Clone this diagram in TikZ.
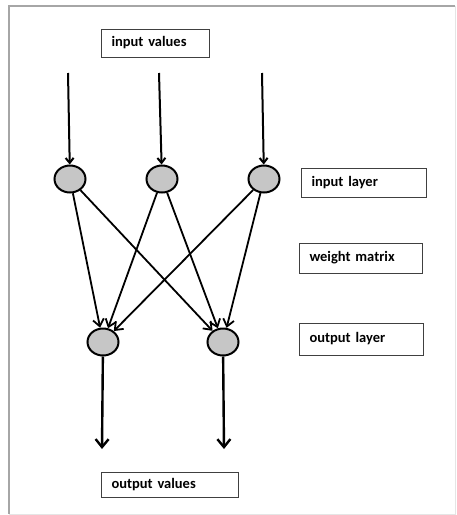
\documentclass[tikz,border=0pt]{standalone}
\usepackage{fontspec}
\setmainfont{Carlito}
\usetikzlibrary{arrows.meta,shapes.geometric}

\begin{document}
\begin{tikzpicture}[x=1pt,y=-1pt,
  neuron/.style={ellipse,draw,line width=2pt,fill=gray!45,inner sep=0pt,
    minimum width=31pt,minimum height=27pt},
  labelbox/.style={draw=black!75,line width=1pt,anchor=west,inner xsep=10pt,
    inner ysep=0pt,align=left,text width=#1,
    font=\fontsize{14.5}{16}\selectfont\bfseries},
  inflow/.style={line width=2pt,-{Straight Barb[length=5pt,width=8pt]}},
  outflow/.style={line width=2.4pt,-{Straight Barb[length=8pt,width=13pt]}},
  weight/.style={line width=1.8pt,-{Straight Barb[length=7pt,width=11pt]}}]
  \useasboundingbox (0,0) rectangle (456,515);
  % frame
  \draw[gray!70,line width=1.5pt] (9,514) -- (9,6) -- (455,6);
  \draw[gray!20,line width=1pt] (455,6) -- (455,514) -- (9,514);

  % labels
  \node[labelbox=88pt,minimum height=28pt]  (inval)  at (101,43)    {input values};
  \node[labelbox=105pt,minimum height=29pt] (inlay)  at (301,182.5) {input layer};
  \node[labelbox=103pt,minimum height=30pt] (wmat)   at (299,258)   {weight matrix};
  \node[labelbox=104pt,minimum height=32pt] (outlay) at (299,339)   {output layer};
  \node[labelbox=117pt,minimum height=25pt] (outval) at (101,484.5) {output values};

  % neurons
  \node[neuron] (i1) at (70,179)  {};
  \node[neuron] (i2) at (162,179) {};
  \node[neuron] (i3) at (264,179) {};
  \node[neuron] (o1) at (103,342) {};
  \node[neuron] (o2) at (223,342) {};

  % inputs and outputs
  \coordinate (a1) at (68,73);
  \coordinate (a2) at (159,73);
  \coordinate (a3) at (262,73);
  \coordinate (b1) at (102,449);
  \coordinate (b2) at (224,449);
  \draw[inflow] (a1) -- (i1);
  \draw[inflow] (a2) -- (i2);
  \draw[inflow] (a3) -- (i3);
  \draw[outflow] (o1) -- (b1);
  \draw[outflow] (o2) -- (b2);

  % weights
  \foreach \i in {1,2,3}
    \foreach \o in {1,2}
      \draw[weight] (i\i) -- (o\o);
\end{tikzpicture}
\end{document}
